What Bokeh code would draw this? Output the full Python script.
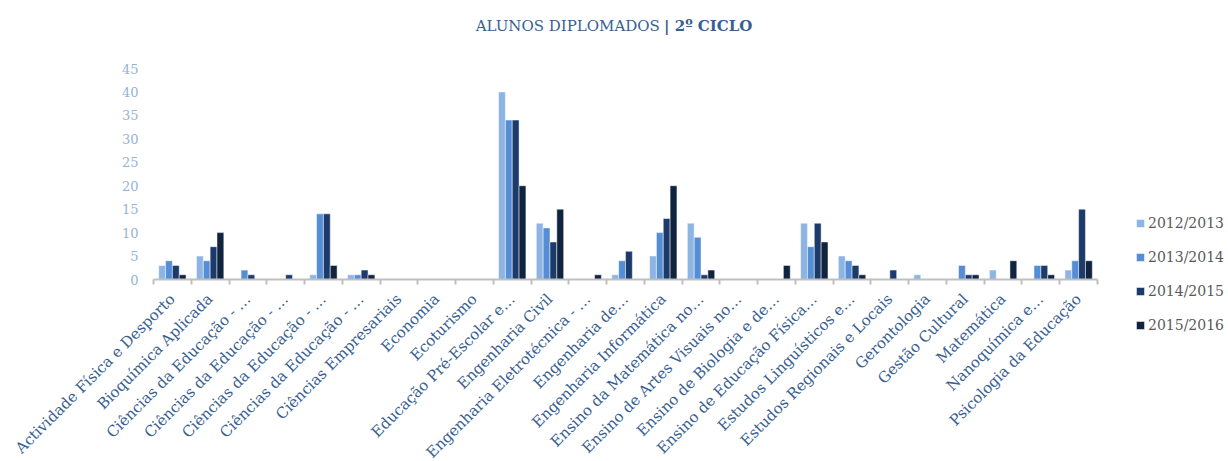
import math
from bokeh.plotting import figure
from bokeh.models import Range1d, FixedTicker, Legend, LegendItem, Label, ColumnDataSource
from bokeh.transform import dodge
from bokeh.embed import file_html
from bokeh.resources import INLINE

categories = [
    "Actividade Física e Desporto",
    "Bioquímica Aplicada",
    "Ciências da Educação - …",
    "Ciências da Educação - …",
    "Ciências da Educação - …",
    "Ciências da Educação - …",
    "Ciências Empresariais",
    "Economia",
    "Ecoturismo",
    "Educação Pré-Escolar e…",
    "Engenharia Civil",
    "Engenharia Eletrotécnica - …",
    "Engenharia de…",
    "Engenharia Informática",
    "Ensino da Matemática no…",
    "Ensino de Artes Visuais no…",
    "Ensino de Biologia e de…",
    "Ensino de Educação Física…",
    "Estudos Linguísticos e…",
    "Estudos Regionais e Locais",
    "Gerontologia",
    "Gestão Cultural",
    "Matemática",
    "Nanoquímica e…",
    "Psicologia da Educação",
]
seasons = ["2012/2013", "2013/2014", "2014/2015", "2015/2016"]
v2012_2013 = [3, 5, 0, 0, 1, 1, 0, 0, 0, 40, 12, 0, 1, 5, 12, 0, 0, 12, 5, 0, 1, 0, 2, 0, 2]
v2013_2014 = [4, 4, 2, 0, 14, 1, 0, 0, 0, 34, 11, 0, 4, 10, 9, 0, 0, 7, 4, 0, 0, 3, 0, 3, 4]
v2014_2015 = [3, 7, 1, 1, 14, 2, 0, 0, 0, 34, 8, 0, 6, 13, 1, 0, 0, 12, 3, 2, 0, 1, 0, 3, 15]
v2015_2016 = [1, 10, 0, 0, 3, 1, 0, 0, 0, 20, 15, 1, 0, 20, 2, 0, 3, 8, 1, 0, 0, 1, 4, 1, 4]
y_ticks = [0, 5, 10, 15, 20, 25, 30, 35, 40, 45]

colors = ["#8DB4E2", "#558ED5", "#1C3B6B", "#10243F"]

idx = list(range(len(categories)))
source = ColumnDataSource(dict(
    x=idx,
    s0=v2012_2013, s1=v2013_2014, s2=v2014_2015, s3=v2015_2016,
))

p = figure(
    frame_width=944, frame_height=211,
    x_range=Range1d(-0.5, len(categories) - 0.5),
    y_range=Range1d(0, 45),
    output_backend="svg", toolbar_location=None,
    min_border_left=153, min_border_right=131,
    min_border_top=68, min_border_bottom=0,
)
p.outline_line_color = None
p.xgrid.visible = False
p.ygrid.visible = False
p.background_fill_color = "white"
p.border_fill_color = "white"

bw = 0.725 / 4
offsets = [-1.5 * bw, -0.5 * bw, 0.5 * bw, 1.5 * bw]
renderers = []
for k in range(4):
    r = p.vbar(x=dodge("x", offsets[k], range=p.x_range), top=f"s{k}", width=bw,
               source=source, fill_color=colors[k], line_color="white",
               line_width=0.8, line_alpha=0.6)
    renderers.append(r)

# x axis
xa = p.xaxis[0]
xa.ticker = FixedTicker(ticks=idx, minor_ticks=[i - 0.5 for i in range(len(categories) + 1)])
xa.major_label_overrides = {i: c for i, c in enumerate(categories)}
xa.major_label_orientation = math.pi / 4
xa.major_tick_line_color = None
xa.major_tick_out = 0
xa.major_tick_in = 0
xa.minor_tick_line_color = "#BFBFBF"
xa.minor_tick_line_width = 2
xa.minor_tick_out = 5
xa.minor_tick_in = 0
xa.axis_line_color = "#BFBFBF"
xa.axis_line_width = 2
xa.major_label_text_font = "DejaVu Serif"
xa.major_label_text_font_size = "15px"
xa.major_label_text_color = "#376092"
xa.major_label_standoff = 12

# y axis
ya = p.yaxis[0]
ya.ticker = FixedTicker(ticks=y_ticks)
ya.axis_line_color = None
ya.major_tick_line_color = None
ya.minor_tick_line_color = None
ya.major_tick_out = 0
ya.major_tick_in = 0
ya.major_label_standoff = 15
ya.major_label_text_font = "DejaVu Serif"
ya.major_label_text_font_size = "13px"
ya.major_label_text_color = "#95B3D7"

legend = Legend(
    items=[LegendItem(label=seasons[k], renderers=[renderers[k]]) for k in range(4)],
    location=(38, -56),
    orientation="vertical",
    glyph_width=10, glyph_height=10,
    label_height=20, spacing=14,
    padding=0, margin=0,
    border_line_color=None, background_fill_alpha=0,
    label_text_font="DejaVu Serif", label_text_font_size="14px",
    label_text_color="#595959", label_standoff=3,
)
p.add_layout(legend, "right")

t1 = Label(x=12.91, y=54.1, text="ALUNOS DIPLOMADOS", text_align="right",
           text_baseline="middle", text_font="DejaVu Serif", text_font_size="15px",
           text_color="#376092")
t2 = Label(x=13.02, y=54.1, text="| 2º CICLO", text_align="left",
           text_baseline="middle", text_font="DejaVu Serif", text_font_size="15px",
           text_font_style="bold", text_color="#376092")
p.add_layout(t1, "above")
p.add_layout(t2, "above")

open("out.html", "w").write(file_html(p, INLINE))
